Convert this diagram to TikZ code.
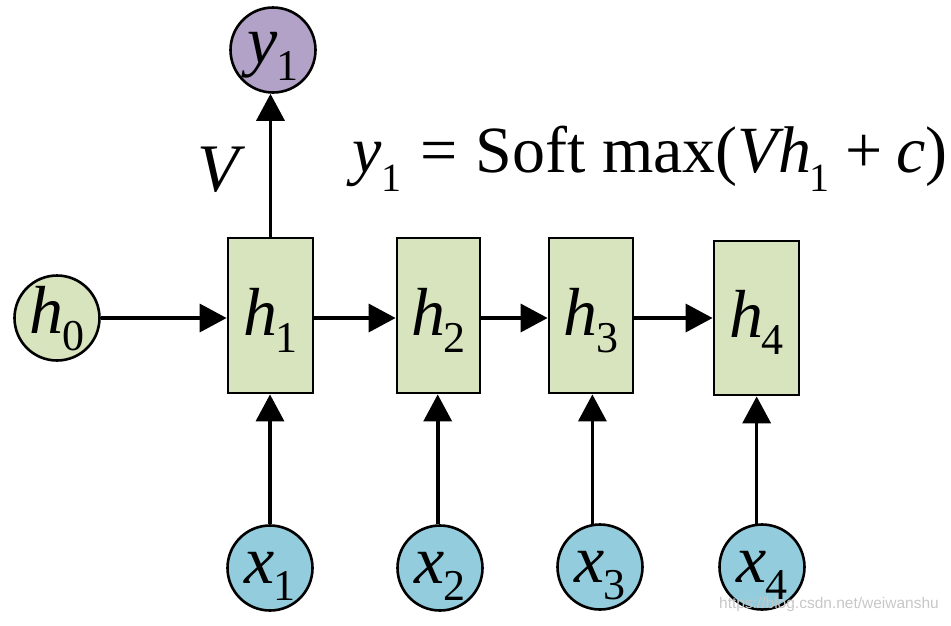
\documentclass[tikz,border=0pt]{standalone}
\usepackage{fontspec}
\setmainfont{Liberation Serif}
\newfontfamily\wmfont{Liberation Sans}
\usetikzlibrary{arrows.meta}
\definecolor{hgreen}{HTML}{D7E4BD}
\definecolor{ypurple}{HTML}{B3A2C7}
\definecolor{xblue}{HTML}{93CDDD}
\newcommand\lsub[2]{\textit{#1}\kern-0.02em\raisebox{-0.25em}{\fontsize{44}{44}\selectfont #2}}
\begin{document}
\begin{tikzpicture}[x=1pt,y=-1pt,
  hbox/.style={draw=black,line width=2.8pt,fill=hgreen,minimum width=85pt,minimum height=155pt,inner sep=0pt,
     font=\fontsize{68}{70}\selectfont,text height=50pt,text depth=11pt},
  circ/.style={circle,draw=black,line width=2.6pt,minimum size=85pt,inner sep=0pt,
     font=\fontsize{68}{70}\selectfont,text height=40pt,text depth=10pt},
  arr/.style={line width=3.6pt,-{Triangle[length=27pt,width=28pt]}}]
\useasboundingbox (0,0) rectangle (951,625);
% hidden-state boxes
\node[hbox] (h1) at (270.5,315.5) {\lsub{h}{1}};
\node[hbox,minimum width=83pt] (h2) at (438.5,315.5) {\lsub{h}{2}};
\node[hbox,minimum width=84pt] (h3) at (591,315.5) {\lsub{h}{3}};
\node[hbox,minimum height=154pt] (h4) at (756.5,318) {\lsub{h}{4}};
% circles
\node[circ,fill=hgreen] (h0) at (57,318) {\lsub{h}{0}};
\node[circ,fill=ypurple,text height=36pt,text depth=10pt] (y1) at (273,50) {\lsub{y}{1}};
\node[circ,fill=xblue] (x1) at (270,568) {\lsub{x}{1}};
\node[circ,fill=xblue] (x2) at (440,568) {\lsub{x}{2}};
\node[circ,fill=xblue] (x3) at (600,567) {\lsub{x}{3}};
\node[circ,fill=xblue] (x4) at (762,567) {\lsub{x}{4}};
% connectors
\draw[arr] (h0.east) -- (h0.east -| h1.west);
\draw[arr] (h1.east |- h0.east) -- (h1.east |- h0.east -| h2.west);
\draw[arr] (h2.east |- h0.east) -- (h2.east |- h0.east -| h3.west);
\draw[arr] (h3.east |- h0.east) -- (h3.east |- h0.east -| h4.west);
\draw[arr] (h1.north) -- (h1.north |- y1.south);
\draw[arr] (x1.north) -- (x1.north |- h1.south);
\draw[arr] (x2.93) -- (x2.93 |- h2.south);
\draw[arr] (x3.100) -- (x3.100 |- h3.south);
\draw[arr] (x4.97) -- (x4.97 |- h4.south);
% labels
\node[font=\fontsize{68}{70}\selectfont] (V) at (222,170) {\textit{V}};
\node[anchor=base west,inner sep=0pt,font=\fontsize{66}{70}\selectfont] (eq) at (352,172)
  {\textit{y}\raisebox{-0.3em}{\fontsize{40}{40}\selectfont 1}\kern0.28em=\kern0.28em Soft max(\textit{Vh}\kern-0.03em\raisebox{-0.3em}{\fontsize{40}{40}\selectfont 1}\kern0.25em+\kern0.2em\textit{c})};
\node[font=\wmfont\fontsize{15.5}{16}\selectfont,text=black!22] (wm) at (829,604) {https://blog.csdn.net/weiwanshu};
\end{tikzpicture}
\end{document}
